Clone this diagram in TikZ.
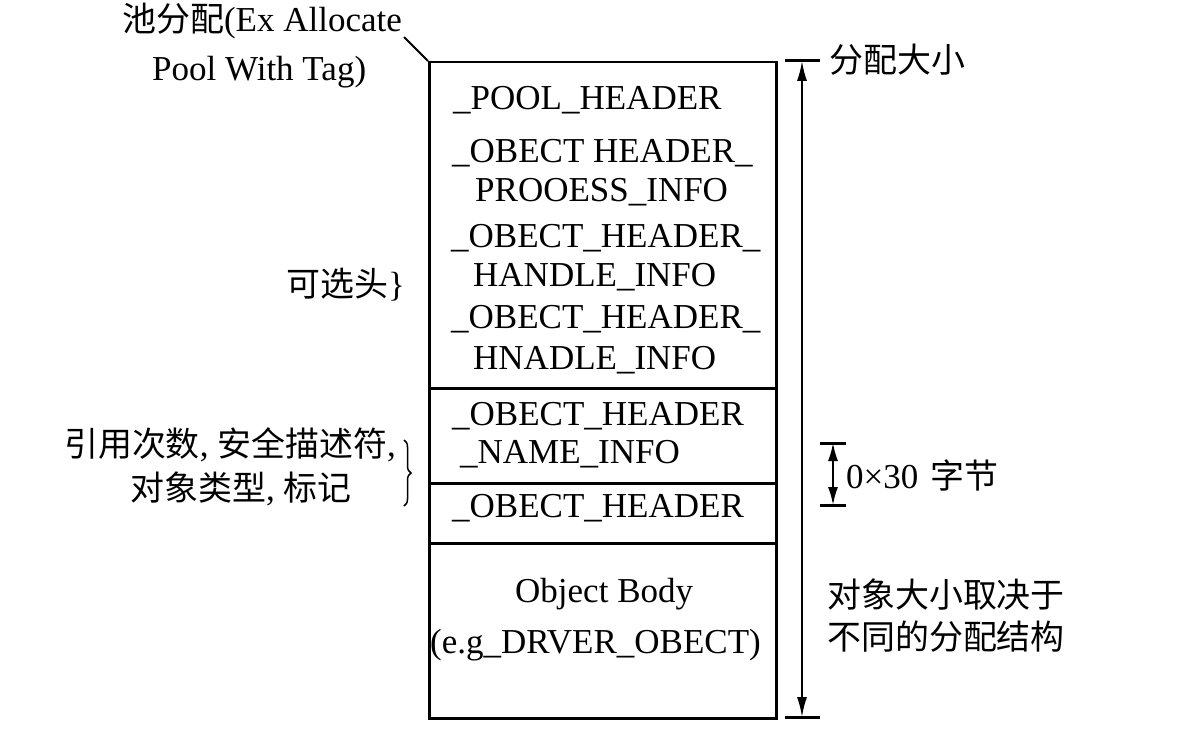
\documentclass[tikz,border=0pt]{standalone}
\usepackage{fontspec}
\setmainfont{Liberation Serif}
\newfontfamily\cjk[Scale=0.97]{Noto Sans CJK SC}
\usetikzlibrary{arrows.meta,decorations.pathreplacing}
\begin{document}
\begin{tikzpicture}[x=1pt,y=-1pt,
  sec/.style={draw,line width=2.5pt,minimum width=347,anchor=north west,inner sep=0},
  txt/.style={inner sep=0,anchor=base west,font=\fontsize{35}{40}\selectfont},
  lbl/.style={inner sep=0,font=\fontsize{35}{40}\selectfont},
  dimline/.style={line width=1.8pt,{Latex[length=20pt,width=10pt]}-{Latex[length=20pt,width=10pt]}},
  smalldim/.style={line width=1.8pt,{Latex[length=18pt,width=10pt]}-{Latex[length=18pt,width=10pt]}},
  tick/.style={line width=3pt},
  lead/.style={line width=1.8pt}]
\useasboundingbox (0,0) rectangle (1200,730);
% box sections
\node[sec,minimum height=326] (s1) at (428,61) {};
\node[sec,minimum height=95] (s2) at (428,387) {};
\node[sec,minimum height=60] (s3) at (428,482) {};
\node[sec,minimum height=175] (s4) at (428,542) {};
% texts in box
\node[txt] (t1) at (453,110) {\_POOL\_HEADER};
\node[txt] (t2) at (452,163) {\_OBECT HEADER\_};
\node[txt] (t3) at (475,202) {PROOESS\_INFO};
\node[txt] (t4) at (451,248) {\_OBECT\_HEADER\_};
\node[txt] (t5) at (473,287) {HANDLE\_INFO};
\node[txt] (t6) at (451,328) {\_OBECT\_HEADER\_};
\node[txt] (t7) at (473,369) {HNADLE\_INFO};
\node[txt] (t8) at (452,425) {\_OBECT\_HEADER};
\node[txt] (t9) at (460,463) {\_NAME\_INFO};
\node[txt] (t10) at (452,517) {\_OBECT\_HEADER};
\node[txt] (t11) at (515,602) {Object Body};
\node[txt] (t12) at (430,653) {(e.g\_DRVER\_OBECT)};
% top-left label
\node[txt] (p1) at (122,32) {{\cjk 池分配}(Ex Allocate};
\node[txt] (p2) at (152,81) {Pool With Tag)};
\coordinate (leadstart) at (404,37);
\draw[lead] (leadstart) -- (s1.north west);
% left labels
\node[lbl,anchor=east] (opt) at (405,285) {{\cjk 可选头}\}};
\node[lbl] (ref1) at (230,445) {{\cjk 引用次数}, {\cjk 安全描述符},};
\node[lbl] (ref2) at (241,489) {{\cjk 对象类型}, {\cjk 标记}};
\coordinate (brtop) at (404,440);
\coordinate (brbot) at (404,506);
\draw[line width=1.5pt,decorate,decoration={brace,amplitude=7pt}] (brtop) -- (brbot);
% size arrow
\coordinate (szTop) at (802,61);
\coordinate (szBot) at (802,717);
\draw[tick] (szTop) ++(-17,0) -- ++(35,0);
\draw[tick] (szBot) ++(-17,0) -- ++(35,0);
\draw[dimline] (szTop) -- (szBot);
\node[lbl,anchor=west] (szlbl) at (829,60) {\cjk 分配大小};
% small arrow
\coordinate (smTop) at (833,443);
\coordinate (smBot) at (833,505);
\draw[tick] (smTop) ++(-13,0) -- ++(26,0);
\draw[tick] (smBot) ++(-13,0) -- ++(26,0);
\draw[smalldim] (smTop) -- (smBot);
\node[lbl,anchor=west] (smlbl) at (846,475) {0×30\hspace{12pt}{\cjk 字节}};
% object size label
\node[lbl,anchor=west] (ob1) at (827,595) {\cjk 对象大小取决于};
\node[lbl,anchor=west] (ob2) at (827,637) {\cjk 不同的分配结构};
\end{tikzpicture}
\end{document}
